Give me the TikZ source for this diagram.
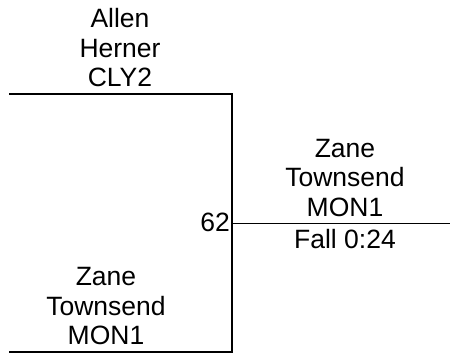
\documentclass[tikz,border=0pt]{standalone}
\usepackage{fontspec}
\setmainfont{Liberation Sans}
\begin{document}
\begin{tikzpicture}[
    x=1pt, y=-1pt,
    player/.style={
        align=center, inner xsep=0pt, inner ysep=7pt,
        anchor=south, font=\fontsize{26.5}{29.5}\selectfont
    },
    info/.style={
        inner sep=0pt, anchor=base,
        font=\fontsize{26.5}{29.5}\selectfont
    },
    line/.style={line width=1.8pt, black},
]
\useasboundingbox (0,0) rectangle (450,354);

% Bracket corners
\coordinate (topL) at (9,94);
\coordinate (topR) at (232,94);
\coordinate (botL) at (9,352);
\coordinate (botR) at (232,352);
\coordinate (mid) at (232,223.5);
\coordinate (winR) at (450,223.5);

% Competitors
\node[player] (herner) at (120,94) {Allen\\Herner\\CLY2};
\node[player] (townsendB) at (106,352) {Zane\\Townsend\\MON1};
\node[player] (winner) at (345,223.5) {Zane\\Townsend\\MON1};

% Bout info
\node[info, anchor=base east] (bout) at (230,231) {62};
\node[info] (result) at (345,248) {Fall 0:24};

% Lines
\draw[line] (topL) -- (topR) -- (botR) -- (botL);
\draw[line] (mid) -- (winR);

\end{tikzpicture}
\end{document}
